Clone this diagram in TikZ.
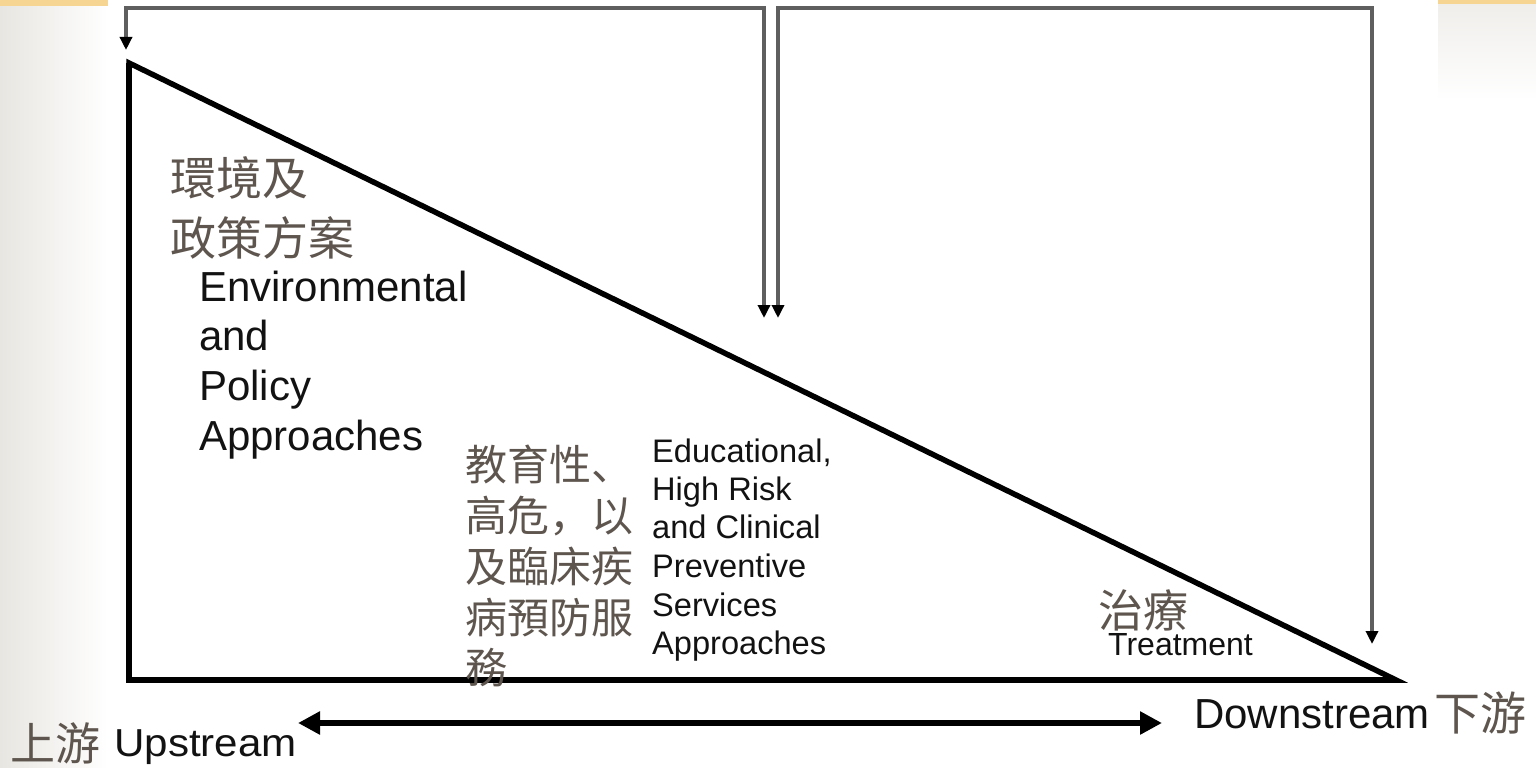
\documentclass[tikz,border=0pt]{standalone}
\usepackage{fontspec}
\setmainfont{Liberation Sans}
\newfontfamily\cjk{Noto Sans CJK SC}
\usetikzlibrary{arrows.meta}
\definecolor{cjkc}{RGB}{94,86,78}
\definecolor{linec}{RGB}{95,95,95}
\definecolor{txt}{RGB}{18,18,18}
\definecolor{bgl}{RGB}{232,230,225}
\definecolor{band}{RGB}{246,212,145}
\begin{document}
\begin{tikzpicture}[x=1pt,y=-1pt,
  en/.style={anchor=base west, inner sep=0pt, text=txt},
  zh/.style={anchor=base west, inner sep=0pt, text=cjkc},
  guide/.style={draw=linec, line width=3.4pt,
     {Triangle[length=13pt,width=12pt,black]}-{Triangle[length=13pt,width=12pt,black]}},
  flow/.style={draw=black, line width=6pt,
     {Triangle[length=22pt,width=22pt]}-{Triangle[length=22pt,width=22pt]}}]
\useasboundingbox (0,0) rectangle (1536,768);
% background decoration
\shade[left color=bgl, right color=white] (0,0) rectangle (108,768);
\fill[band] (0,0) rectangle (108,6);
\shade[top color=bgl!70, bottom color=white] (1438,0) rectangle (1536,100);
\fill[band] (1438,0) rectangle (1536,4);
% triangle
\coordinate (T) at (129,63);
\coordinate (BL) at (129,680);
\coordinate (BR) at (1396,680);
\draw[line width=5.5pt, line join=miter] (T) -- (BL) -- (BR) -- cycle;
\draw[line width=6.5pt, line join=miter] (T) -- (BL) -- (BR);
% guide arrows
\coordinate (aL) at (126,50);
\coordinate (aC1) at (126,8);
\coordinate (aC2) at (764,8);
\coordinate (aM) at (764,318);
\draw[guide] (aL) -- (aC1) -- (aC2) -- (aM);
\coordinate (bM) at (778,318);
\coordinate (bC1) at (778,8);
\coordinate (bC2) at (1372,8);
\coordinate (bR) at (1372,644);
\draw[guide] (bM) -- (bC1) -- (bC2) -- (bR);
% upstream / downstream arrow
\coordinate (uL) at (298,723);
\coordinate (dR) at (1162,723);
\draw[flow] (uL) -- (dR);
% block 1
\node[zh, font=\cjk\fontsize{46}{46}\selectfont] (z1a) at (170,195) {環境及};
\node[zh, font=\cjk\fontsize{46}{46}\selectfont] (z1b) at (170,255) {政策方案};
\node[en, font=\fontsize{42}{42}\selectfont] (e1a) at (199,301) {Environmental};
\node[en, font=\fontsize{42}{42}\selectfont] (e1b) at (199,350) {and};
\node[en, font=\fontsize{42}{42}\selectfont] (e1c) at (199,400) {Policy};
\node[en, font=\fontsize{42}{42}\selectfont] (e1d) at (199,450) {Approaches};
% block 2
\node[zh, font=\cjk\fontsize{42}{42}\selectfont] (z2a) at (465,480) {教育性、};
\node[zh, font=\cjk\fontsize{42}{42}\selectfont] (z2b) at (465,531) {高危，以};
\node[zh, font=\cjk\fontsize{42}{42}\selectfont] (z2c) at (465,582) {及臨床疾};
\node[zh, font=\cjk\fontsize{42}{42}\selectfont] (z2d) at (465,633) {病預防服};
\node[zh, font=\cjk\fontsize{42}{42}\selectfont] (z2e) at (465,683) {務};
\node[en, font=\fontsize{32.6}{32.6}\selectfont] (e2a) at (652,462) {Educational,};
\node[en, font=\fontsize{32.6}{32.6}\selectfont] (e2b) at (652,500) {High Risk};
\node[en, font=\fontsize{32.6}{32.6}\selectfont] (e2c) at (652,538) {and Clinical};
\node[en, font=\fontsize{32.6}{32.6}\selectfont] (e2d) at (652,577) {Preventive};
\node[en, font=\fontsize{32.6}{32.6}\selectfont] (e2e) at (652,616) {Services};
\node[en, font=\fontsize{32.6}{32.6}\selectfont] (e2f) at (652,654) {Approaches};
% block 3
\node[zh, font=\cjk\fontsize{45}{45}\selectfont] (z3) at (1098,627) {治療};
\node[en, font=\fontsize{32}{32}\selectfont] (e3) at (1108,655) {Treatment};
% ends
\node[en, font=\fontsize{42}{42}\selectfont] (down) at (1194,728) {Downstream};
\node[zh, font=\cjk\fontsize{46}{46}\selectfont] (downz) at (1434,730) {下游};
\node[zh, font=\cjk\fontsize{45}{45}\selectfont] (upz) at (10,760) {上游};
\node[en, font=\fontsize{39}{39}\selectfont] (up) at (114,756) {\scalebox{1.08}[1]{Upstream}};
\end{tikzpicture}
\end{document}
